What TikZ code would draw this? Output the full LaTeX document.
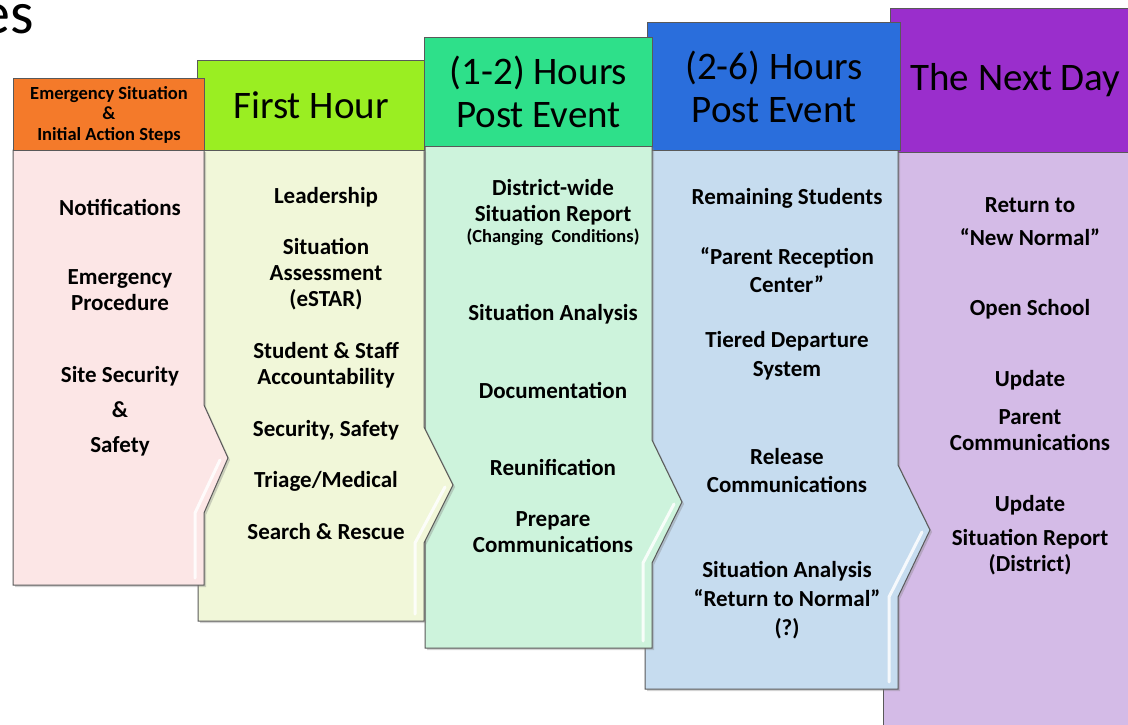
\documentclass[tikz,border=0pt]{standalone}
\usepackage{fontspec}
\setmainfont{Carlito}
\usetikzlibrary{shadows}
\definecolor{hOrange}{HTML}{F47A2A}
\definecolor{hLime}{HTML}{9AEE22}
\definecolor{hMint}{HTML}{2EE08A}
\definecolor{hBlue}{HTML}{2A6EDC}
\definecolor{hPurple}{HTML}{9A2ECC}
\definecolor{bPink}{HTML}{FCE6E6}
\definecolor{bLime}{HTML}{F1F7D9}
\definecolor{bMint}{HTML}{CDF3DC}
\definecolor{bSky}{HTML}{C6DCEF}
\definecolor{bLilac}{HTML}{D4BBE7}
\tikzset{
  head/.style  = { rectangle, draw=black!65, line width=1pt, anchor=north west,
                   inner sep=0pt, align=center, font=\fontsize{39}{43}\selectfont },
  sheet/.style = { draw=black!65, line width=1pt,
                   drop shadow={shadow xshift=2pt, shadow yshift=-2pt, opacity=.35} },
  item/.style  = { align=center, font=\bfseries\fontsize{23}{26}\selectfont },
  gloss/.style = { draw=white, line width=3pt, opacity=.85, line cap=round, line join=round },
}

\begin{document}
\begin{tikzpicture}[x=1pt,y=-1pt]
  \useasboundingbox (0,0) rectangle (1128,725);

  \node (title) [anchor=base east, font=\fontsize{60}{60}\selectfont] at (37,34) {es};

  % the next day
  \draw [sheet, fill=bLilac] (883,152) -- (1140,152) -- (1140,740) -- (883,740) -- cycle;
  \node (h5) [head, fill=hPurple, minimum width=250pt, minimum height=144pt] at (890,8) {The Next Day};
  \node (e1) [item] at (1030,222) {Return to\\[7pt]“New Normal”};
  \node (e2) [item] at (1030,309) {Open School};
  \node (e3) [item] at (1030,411) {Update\\[12pt]Parent\\Communications};
  \node (e4) [item] at (1030,535) {Update\\[8pt]Situation Report\\(District)};

  % (2-6) hours
  \draw [sheet, fill=bSky] (645,150) -- (898,150) -- (898,465) -- (930,530)
        -- (898,597) -- (898,689) -- (645,689) -- cycle;
  \draw [gloss] (889,682) -- (889,597) -- (922,532);
  \node (h4) [head, fill=hBlue, minimum width=253pt, minimum height=128pt] at (647,22) {(2-6) Hours\\Post Event};
  \node (d1) [item] at (787,198) {Remaining Students};
  \node (d2) [item] at (787,270) {“Parent Reception\\[2pt]Center”};
  \node (d3) [item] at (787,356) {Tiered Departure\\[3pt]System};
  \node (d4) [item] at (787,471) {Release\\[2pt]Communications};
  \node (d5) [item] at (787,600) {Situation Analysis\\[3pt]“Return to Normal”\\[3pt](?)};

  % (1-2) hours
  \draw [sheet, fill=bMint] (425,146) -- (652,146) -- (652,440) -- (682,502)
        -- (652,563) -- (652,648) -- (425,648) -- cycle;
  \draw [gloss] (643,641) -- (643,563) -- (674,504);
  \node (h3) [head, fill=hMint, minimum width=228pt, minimum height=109pt] at (424,37) {(1-2) Hours\\Post Event};
  \node (c1) [item] at (553,212) {District-wide\\Situation Report\\[-5pt]{\fontsize{18.5}{20}\selectfont(Changing\ \ Conditions)}};
  \node (c2) [item] at (553,314) {Situation Analysis};
  \node (c3) [item] at (553,390) {Documentation};
  \node (c4) [item] at (553,467) {Reunification};
  \node (c5) [item] at (553,532) {Prepare\\Communications};

  % first hour
  \draw [sheet, fill=bLime] (198,150) -- (424,150) -- (424,427) -- (453,485)
        -- (424,543) -- (424,621) -- (198,621) -- cycle;
  \draw [gloss] (415,614) -- (415,543) -- (445,487);
  \node (h2) [head, fill=hLime, minimum width=227pt, minimum height=90pt] at (197,60) {First Hour};
  \node (b1) [item] at (326,197) {Leadership};
  \node (b2) [item] at (326,274) {Situation\\Assessment\\(eSTAR)};
  \node (b3) [item] at (326,365) {Student \& Staff\\Accountability};
  \node (b4) [item] at (326,430) {Security, Safety};
  \node (b5) [item] at (326,481) {Triage/Medical};
  \node (b6) [item] at (326,532) {Search \& Rescue};

  % emergency situation
  \draw [sheet, fill=bPink] (13,150) -- (204,150) -- (204,405) -- (228,458)
        -- (204,513) -- (204,585) -- (13,585) -- cycle;
  \draw [gloss] (195,578) -- (195,513) -- (220,460);
  \node (h1) [head, fill=hOrange, minimum width=191pt, minimum height=72pt,
              font=\bfseries\fontsize{18.5}{20.5}\selectfont] at (13,78)
        {Emergency Situation\\\&\\Initial Action Steps};
  \node (a1) [item] at (120,207) {Notifications};
  \node (a2) [item] at (120,290) {Emergency\\Procedure};
  \node (a3) [item] at (120,411) {Site Security\\[9pt]\&\\[9pt]Safety};
\end{tikzpicture}
\end{document}
